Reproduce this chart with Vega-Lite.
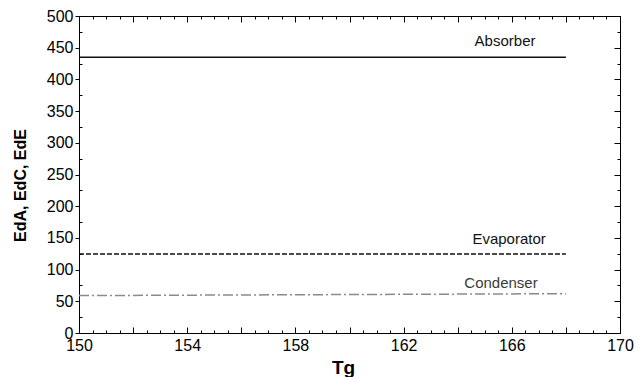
{
  "$schema": "https://vega.github.io/schema/vega-lite/v6.json",
  "width": 541,
  "height": 317,
  "autosize": "none",
  "padding": {"left": 79, "top": 16, "right": 24, "bottom": 44},
  "background": "white",
  "config": {
    "font": "Liberation Sans",
    "view": {"stroke": "black", "strokeWidth": 1}
  },
  "datasets": {
    "lines": [
      {"series": "Absorber", "T": 150, "E": 435},
      {"series": "Absorber", "T": 168, "E": 435},
      {"series": "Evaporator", "T": 150, "E": 124.5},
      {"series": "Evaporator", "T": 168, "E": 124.5},
      {"series": "Condenser", "T": 150, "E": 59},
      {"series": "Condenser", "T": 168, "E": 62}
    ],
    "labels": [
      {"series": "Absorber", "T": 165.75, "E": 460},
      {"series": "Evaporator", "T": 165.9, "E": 148},
      {"series": "Condenser", "T": 165.6, "E": 79}
    ]
  },
  "layer": [
    {
      "data": {"name": "lines"},
      "mark": {"type": "line", "strokeWidth": 1.5},
      "encoding": {
        "x": {
          "field": "T", "type": "quantitative",
          "scale": {"domain": [150, 170], "nice": false, "zero": false},
          "axis": {
            "orient": "bottom",
            "title": "Tg",
            "titleFontSize": 19,
            "titleFontWeight": "bold",
            "titleColor": "black",
            "titlePadding": 2,
            "titleX": 264,
            "values": [150,150.5,151,151.5,152,152.5,153,153.5,154,154.5,155,155.5,156,156.5,157,157.5,158,158.5,159,159.5,160,160.5,161,161.5,162,162.5,163,163.5,164,164.5,165,165.5,166,166.5,167,167.5,168,168.5,169,169.5,170],
            "labelExpr": "(datum.value - 150) % 4 === 0 ? format(datum.value, 'd') : ''",
            "labelFontSize": 16,
            "labelColor": "black",
            "labelPadding": 10,
            "labelFlush": false,
            "labelOverlap": false,
            "grid": false,
            "domain": false,
            "tickColor": "black",
            "tickSize": {"condition": {"test": "(datum.value - 150) % 2 === 0", "value": -6}, "value": -3}
          }
        },
        "y": {
          "field": "E", "type": "quantitative",
          "scale": {"domain": [0, 500], "nice": false},
          "axis": {
            "orient": "left",
            "title": "EdA, EdC, EdE",
            "titleFontSize": 16,
            "titleFontWeight": "bold",
            "titleColor": "black",
            "titlePadding": 18,
            "titleY": 169,
            "values": [0,25,50,75,100,125,150,175,200,225,250,275,300,325,350,375,400,425,450,475,500],
            "labelExpr": "datum.value % 50 === 0 ? datum.label : ''",
            "labelFontSize": 16,
            "labelColor": "black",
            "labelPadding": 2,
            "labelOverlap": false,
            "grid": false,
            "domain": false,
            "tickColor": "black",
            "tickSize": {"condition": {"test": "datum.value % 50 === 0", "value": 4}, "value": -3}
          }
        },
        "color": {
          "field": "series", "type": "nominal",
          "scale": {"domain": ["Absorber", "Evaporator", "Condenser"], "range": ["#111111", "#111111", "#8a8a8a"]},
          "legend": null
        },
        "strokeDash": {
          "field": "series", "type": "nominal",
          "scale": {"domain": ["Absorber", "Evaporator", "Condenser"], "range": [[1, 0], [5, 2], [10, 3, 2, 3]]},
          "legend": null
        }
      }
    },
    {
      "data": {"name": "labels"},
      "mark": {"type": "text", "fontSize": 15, "align": "center", "baseline": "middle"},
      "encoding": {
        "x": {
          "field": "T", "type": "quantitative",
          "scale": {"domain": [150, 170], "nice": false, "zero": false},
          "axis": {
            "orient": "top", "title": null, "labels": false, "grid": false, "domain": false,
            "values": [150,150.5,151,151.5,152,152.5,153,153.5,154,154.5,155,155.5,156,156.5,157,157.5,158,158.5,159,159.5,160,160.5,161,161.5,162,162.5,163,163.5,164,164.5,165,165.5,166,166.5,167,167.5,168,168.5,169,169.5,170],
            "tickColor": "black",
            "tickSize": {"condition": {"test": "(datum.value - 150) % 2 === 0", "value": -6}, "value": -3}
          }
        },
        "y": {
          "field": "E", "type": "quantitative",
          "scale": {"domain": [0, 500], "nice": false},
          "axis": {
            "orient": "right", "title": null, "labels": false, "grid": false, "domain": false,
            "values": [0,25,50,75,100,125,150,175,200,225,250,275,300,325,350,375,400,425,450,475,500],
            "tickColor": "black",
            "tickSize": {"condition": {"test": "datum.value % 50 === 0", "value": -6}, "value": -3}
          }
        },
        "text": {"field": "series", "type": "nominal"},
        "color": {
          "field": "series", "type": "nominal",
          "scale": {"domain": ["Absorber", "Evaporator", "Condenser"], "range": ["#111111", "#111111", "#3a3a3a"]},
          "legend": null
        }
      }
    }
  ],
  "resolve": {"axis": {"x": "independent", "y": "independent"}, "scale": {"color": "independent"}}
}
